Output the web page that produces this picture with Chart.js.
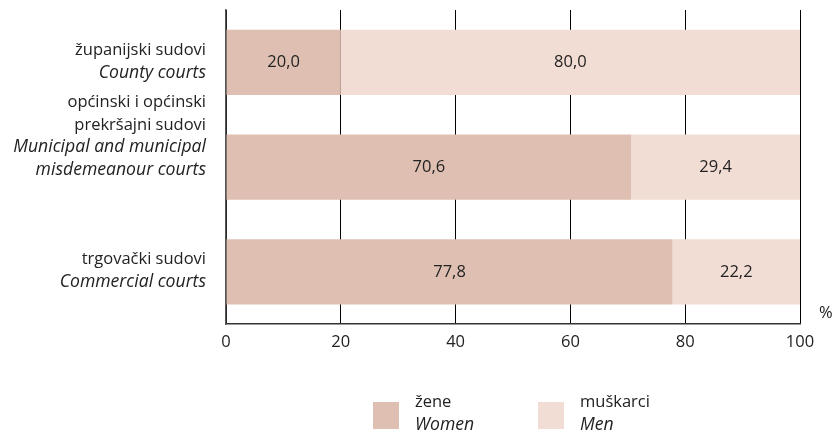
<!DOCTYPE html>
<html><head><meta charset="utf-8">
<script src="https://cdn.jsdelivr.net/npm/chart.js@4.4.1/dist/chart.umd.min.js"></script>
<style>html,body{margin:0;padding:0;background:#fff}#wrap{width:836px;height:433px;position:relative}</style>
</head><body><div id="wrap"><canvas id="c"></canvas></div>
<script>
const categories = ["županijski sudovi", "općinski i općinski prekršajni sudovi", "trgovački sudovi"];
const categoryLabelsHr = [["županijski sudovi"], ["općinski i općinski", "prekršajni sudovi"], ["trgovački sudovi"]];
const categoryLabelsEn = [["County courts"], ["Municipal and municipal", "misdemeanour courts"], ["Commercial courts"]];
const women = [20.0, 70.6, 77.8];
const men = [80.0, 29.4, 22.2];
const xTicks = [0, 20, 40, 60, 80, 100];
const seriesHr = ["žene", "muškarci"];
const seriesEn = ["Women", "Men"];
const colors = ["#dfbfb2", "#f2ddd5"];
const FONT = "'Open Sans', sans-serif";
const FS = 16.5;
const FSI = 17.6;

const labelsPlugin = {
  id: 'customLabels',
  afterDraw(chart) {
    const ctx = chart.ctx;
    const y = chart.scales.y;
    ctx.save();
    ctx.fillStyle = '#222';
    ctx.textBaseline = 'middle';
    const lh = 22.5;
    categories.forEach((c, i) => {
      const lines = categoryLabelsHr[i].map(t => ({t, it: false})).concat(categoryLabelsEn[i].map(t => ({t, it: true})));
      const cy = y.getPixelForValue(i) - (lines.length - 2) * 15 - 1;
      const startY = cy - (lines.length - 1) * lh / 2;
      ctx.textAlign = 'right';
      lines.forEach((l, k) => {
        ctx.font = l.it ? ('italic ' + FSI + 'px ' + FONT) : (FS + 'px ' + FONT);
        ctx.fillText(l.t, chart.chartArea.left - 20, startY + k * lh);
      });
    });
    ctx.textAlign = 'left';
    ctx.font = FS + 'px ' + FONT;
    ctx.fillText('%', chart.chartArea.right + 19, chart.chartArea.bottom - 11);
    const ly = 402;
    const items = [{x: 373}, {x: 538}];
    items.forEach((it, i) => {
      ctx.fillStyle = colors[i];
      ctx.fillRect(it.x, ly, 26, 27);
      ctx.fillStyle = '#222';
      ctx.textAlign = 'left';
      ctx.font = FS + 'px ' + FONT;
      ctx.fillText(seriesHr[i], it.x + 42, ly);
      ctx.font = 'italic ' + FSI + 'px ' + FONT;
      ctx.fillText(seriesEn[i], it.x + 42, ly + 23);
    });
    ctx.restore();
  }
};

const valueLabels = {
  id: 'valueLabels',
  afterDatasetsDraw(chart) {
    const ctx = chart.ctx;
    ctx.save();
    ctx.fillStyle = '#222';
    ctx.font = FS + 'px ' + FONT;
    ctx.textAlign = 'center';
    ctx.textBaseline = 'middle';
    chart.data.datasets.forEach((ds, di) => {
      chart.getDatasetMeta(di).data.forEach((bar, i) => {
        const cx = (bar.x + bar.base) / 2;
        ctx.fillText(ds.data[i].toFixed(1).replace('.', ','), cx, bar.y);
      });
    });
    ctx.restore();
  }
};

new Chart(document.getElementById('c'), {
  type: 'bar',
  data: {
    labels: categories,
    datasets: [
      {label: seriesHr[0], data: women, backgroundColor: colors[0], borderWidth: 0},
      {label: seriesHr[1], data: men, backgroundColor: colors[1], borderWidth: 0}
    ]
  },
  options: {
    indexAxis: 'y',
    responsive: true,
    maintainAspectRatio: false,
    animation: false,
    devicePixelRatio: 1,
    barPercentage: 0.623,
    categoryPercentage: 1,
    layout: {padding: {left: 226, right: 36, top: 10, bottom: 73}},
    plugins: {legend: {display: false}, tooltip: {enabled: false}},
    scales: {
      x: {
        stacked: true, min: 0, max: 100,
        afterBuildTicks(s) { s.ticks = xTicks.map(v => ({value: v})); },
        grid: {color: '#000', lineWidth: 1, drawTicks: false, z: -1},
        border: {color: '#333', width: 1.5},
        ticks: {color: '#222', font: {family: FONT, size: FS}, padding: 8, maxRotation: 0}
      },
      y: {
        stacked: true,
        grid: {display: false, drawTicks: false},
        border: {color: '#555', width: 1.5},
        ticks: {display: false}
      }
    }
  },
  plugins: [valueLabels, labelsPlugin]
});
</script></body></html>
